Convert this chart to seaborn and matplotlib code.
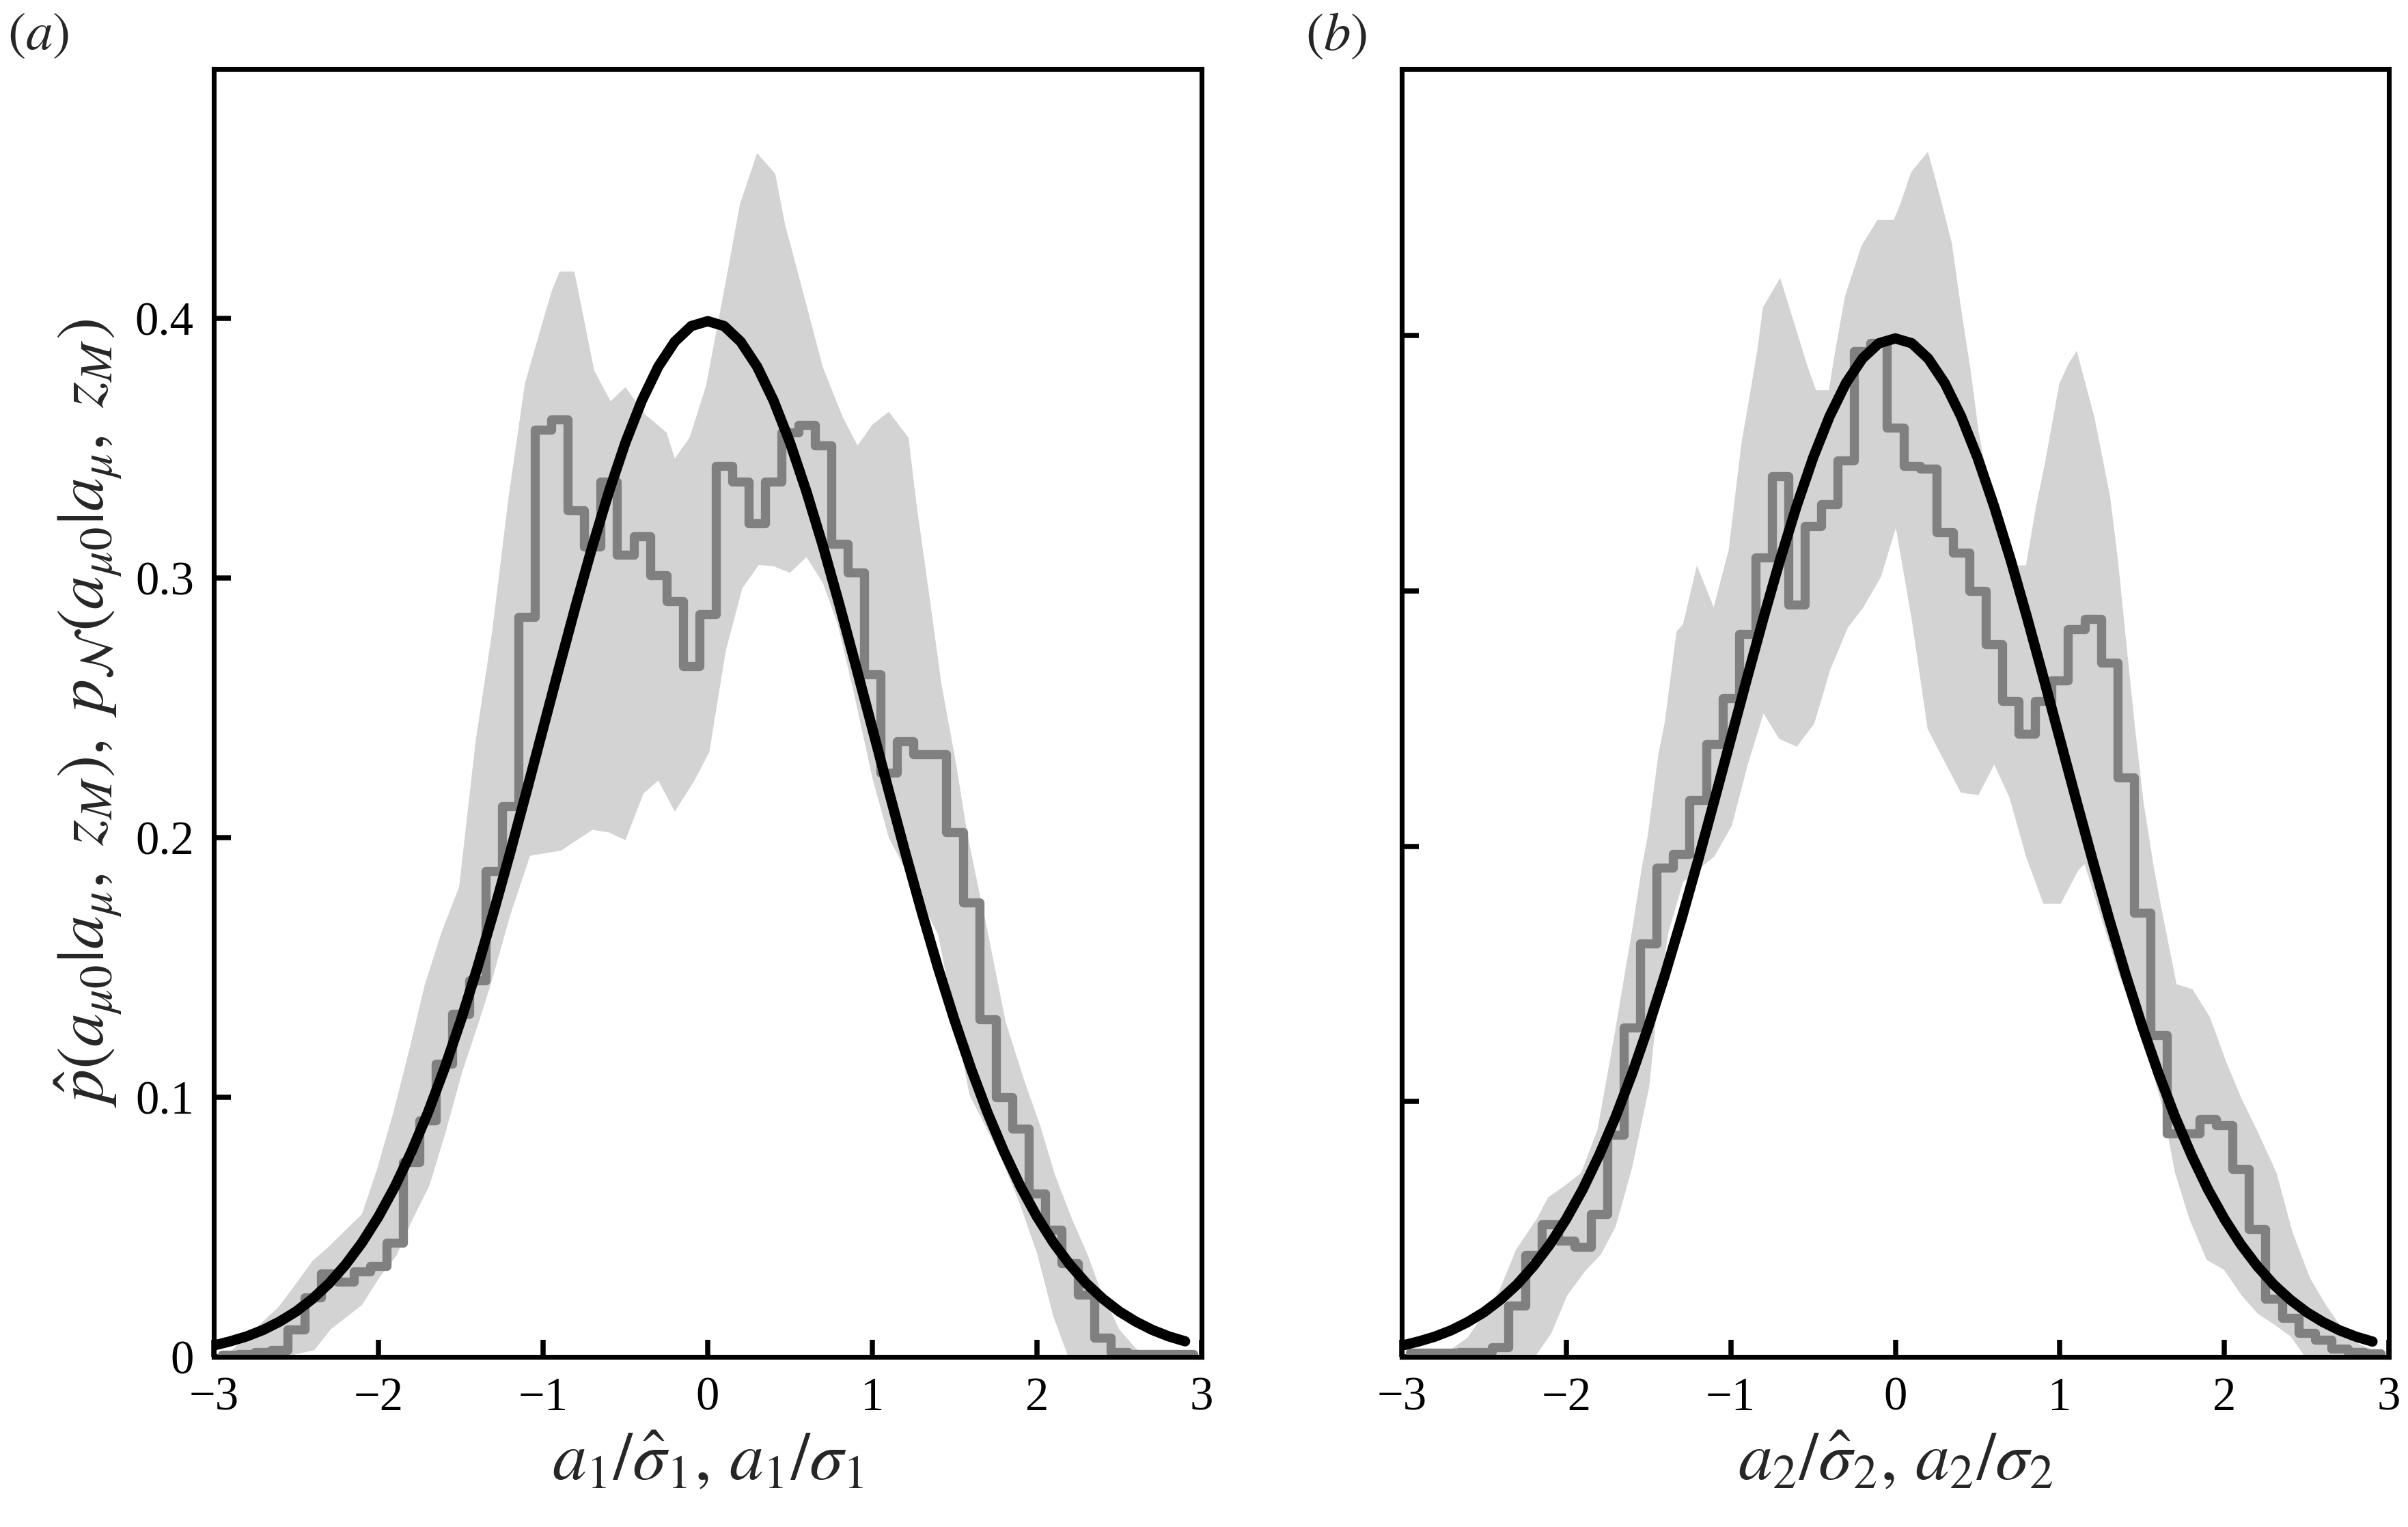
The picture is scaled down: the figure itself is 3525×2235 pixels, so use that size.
"""
Two-panel comparison: empirical step histogram with a light grey band,
against the standard normal density, for the two coefficients.
"""

import numpy as np
import pandas as pd
import matplotlib
matplotlib.use("Agg")
import matplotlib.pyplot as plt
import seaborn as sns

# ---------------------------------------------------------------------------
# Data
# ---------------------------------------------------------------------------

# histogram bins: width 0.1, centred on -2.9 ... 2.9
bin_edges = [round(v, 2) for v in np.arange(-2.95, 2.96, 0.1)]
bin_centres = [round(v, 1) for v in np.arange(-2.9, 2.91, 0.1)]

hist_a1 = [0.0007, 0.001, 0.0018, 0.0027, 0.0106, 0.023, 0.032, 0.029, 0.033, 0.035,
           0.044, 0.075, 0.091, 0.113, 0.132, 0.145, 0.187, 0.212, 0.285, 0.357,
           0.361, 0.326, 0.312, 0.337, 0.309, 0.316, 0.301, 0.291, 0.266,
           0.286,
           0.343, 0.337, 0.321, 0.337, 0.356, 0.359, 0.351, 0.313, 0.302, 0.263,
           0.225, 0.237, 0.232, 0.232, 0.202, 0.175, 0.130, 0.100, 0.088, 0.063,
           0.049, 0.036, 0.024, 0.0075, 0.0018, 0.001, 0.001, 0.001, 0.001]

hist_a2 = [0.0016, 0.0016, 0.0016, 0.0018, 0.002, 0.0037, 0.020, 0.040, 0.052, 0.0455,
           0.043, 0.056, 0.087, 0.129, 0.162, 0.1915, 0.197, 0.218, 0.240, 0.258,
           0.283, 0.313, 0.345, 0.2945, 0.3255, 0.334, 0.351, 0.394, 0.397,
           0.364,
           0.349, 0.348, 0.323, 0.315, 0.300, 0.279, 0.257, 0.244, 0.257, 0.265,
           0.285, 0.289, 0.272, 0.227, 0.174, 0.126, 0.0876, 0.0876, 0.093, 0.0906,
           0.0737, 0.050, 0.0227, 0.0152, 0.0093, 0.0068, 0.0031, 0.0018, 0.0014]

# grey band, panel (a): upper and lower envelopes
band_a1_up_x = [-2.95, -2.90, -2.61, -2.52, -2.40, -2.31, -2.10, -2.01, -1.91, -1.81,
                -1.72, -1.62, -1.51, -1.41, -1.31, -1.21, -1.11, -1.01, -0.95, -0.90,
                -0.81, -0.69, -0.59, -0.50, -0.38, -0.25, -0.20, -0.11, -0.01, 0.115,
                0.196, 0.30, 0.41, 0.47, 0.50, 0.70, 0.82, 0.91, 1.00, 1.10,
                1.22, 1.27, 1.34, 1.42, 1.51, 1.57, 1.62, 1.69, 1.81, 1.92,
                2.02, 2.11, 2.21, 2.31, 2.39, 2.50, 2.60, 2.65, 2.95]
band_a1_up_y = [0.0, 0.002, 0.019, 0.0265, 0.037, 0.042, 0.055, 0.072, 0.094, 0.119,
                0.143, 0.163, 0.181, 0.237, 0.279, 0.331, 0.375, 0.397, 0.410, 0.418,
                0.418, 0.380, 0.368, 0.3735, 0.363, 0.356, 0.346, 0.354, 0.374, 0.416,
                0.444, 0.4636, 0.4557, 0.436, 0.429, 0.381, 0.362, 0.351, 0.359, 0.364,
                0.354, 0.3275, 0.296, 0.259, 0.228, 0.204, 0.188, 0.167, 0.129, 0.107,
                0.089, 0.070, 0.0535, 0.039, 0.025, 0.0106, 0.0033, 0.0015, 0.0005]
band_a1_lo_x = [-2.95, -2.57, -2.39, -2.29, -2.10, -1.99, -1.89, -1.80, -1.69, -1.59,
                -1.49, -1.39, -1.32, -1.20, -1.10, -1.08, -0.89, -0.70, -0.60, -0.50,
                -0.39, -0.30, -0.20, -0.08, 0.01, 0.11, 0.21, 0.31, 0.40, 0.50,
                0.60, 0.70, 0.79, 0.88, 1.00, 1.10, 1.19, 1.40, 1.59, 1.78,
                1.89, 2.00, 2.10, 2.19, 2.95]
band_a1_lo_y = [0.0, 0.0, 0.0026, 0.0106, 0.020, 0.031, 0.039, 0.052, 0.066, 0.087,
                0.110, 0.129, 0.143, 0.170, 0.189, 0.193, 0.195, 0.203, 0.202, 0.199,
                0.217, 0.222, 0.210, 0.222, 0.233, 0.272, 0.296, 0.305, 0.3045, 0.302,
                0.308, 0.298, 0.282, 0.258, 0.223, 0.200, 0.189, 0.1625, 0.101, 0.077,
                0.060, 0.040, 0.0155, 0.0, 0.0]

# grey band, panel (b)
band_a2_up_x = [-2.95, -2.71, -2.60, -2.41, -2.305, -2.18, -2.11, -2.01, -1.91, -1.81,
                -1.71, -1.60, -1.54, -1.505, -1.44, -1.40, -1.33, -1.29, -1.206, -1.104,
                -1.013, -0.935, -0.897, -0.837, -0.805, -0.70, -0.62, -0.534, -0.482, -0.404,
                -0.372, -0.306, -0.207, -0.109, -0.01, 0.029, 0.096, 0.198, 0.253, 0.305,
                0.344, 0.403, 0.456, 0.505, 0.533, 0.62, 0.745, 0.794, 0.852, 0.909,
                0.996, 1.052, 1.103, 1.131, 1.21, 1.305, 1.353, 1.411, 1.459, 1.507,
                1.57, 1.613, 1.709, 1.806, 1.912, 2.008, 2.105, 2.211, 2.317, 2.413,
                2.519, 2.615, 2.721, 2.818, 2.943]
band_a2_up_y = [0.0, 0.0025, 0.0075, 0.0255, 0.042, 0.054, 0.0625, 0.067, 0.072, 0.089,
                0.125, 0.167, 0.192, 0.204, 0.236, 0.249, 0.284, 0.287, 0.310, 0.2936,
                0.316, 0.358, 0.372, 0.395, 0.411, 0.4226, 0.406, 0.388, 0.3786, 0.3786,
                0.3915, 0.4154, 0.435, 0.4453, 0.4453, 0.4513, 0.464, 0.472, 0.459, 0.446,
                0.436, 0.409, 0.387, 0.363, 0.353, 0.333, 0.310, 0.310, 0.332, 0.350,
                0.381, 0.389, 0.394, 0.387, 0.368, 0.337, 0.312, 0.275, 0.245, 0.218,
                0.192, 0.177, 0.146, 0.144, 0.133, 0.116, 0.101, 0.087, 0.072, 0.049,
                0.031, 0.0205, 0.0106, 0.005, 0.0017]
band_a2_lo_x = [-2.95, -2.19, -2.09, -1.995, -1.88, -1.79, -1.70, -1.60, -1.495, -1.447,
                -1.38, -1.29, -1.10, -0.994, -0.897, -0.801, -0.705, -0.599, -0.493, -0.396,
                -0.29, -0.194, -0.088, 0.003, 0.10, 0.196, 0.292, 0.398, 0.505, 0.601,
                0.694, 0.794, 0.90, 1.006, 1.112, 1.15, 1.353, 1.545, 1.623, 1.70,
                1.787, 1.892, 1.999, 2.105, 2.201, 2.307, 2.403, 2.49, 2.943]
band_a2_lo_y = [0.0, 0.0, 0.0093, 0.024, 0.034, 0.040, 0.051, 0.074, 0.106, 0.137,
                0.166, 0.186, 0.196, 0.208, 0.232, 0.252, 0.242, 0.239, 0.248, 0.269,
                0.2855, 0.2936, 0.3054, 0.3247, 0.2886, 0.246, 0.234, 0.221, 0.220, 0.232,
                0.219, 0.196, 0.1775, 0.1775, 0.1906, 0.193, 0.151, 0.116, 0.098, 0.072,
                0.054, 0.038, 0.034, 0.024, 0.017, 0.0125, 0.008, 0.0, 0.0]

# normal density, sampled every 0.1 from -3.0 to 2.9
gauss_x = [round(v, 1) for v in np.arange(-3.0, 2.95, 0.1)]
gauss_y = [0.0044, 0.0060, 0.0079, 0.0104, 0.0136, 0.0175, 0.0224, 0.0283, 0.0355, 0.0440,
           0.0540, 0.0656, 0.0790, 0.0940, 0.1109, 0.1295, 0.1497, 0.1714, 0.1942, 0.2179,
           0.2420, 0.2661, 0.2897, 0.3123, 0.3332, 0.3521, 0.3683, 0.3814, 0.3910, 0.3970,
           0.3989,
           0.3970, 0.3910, 0.3814, 0.3683, 0.3521, 0.3332, 0.3123, 0.2897, 0.2661, 0.2420,
           0.2179, 0.1942, 0.1714, 0.1497, 0.1295, 0.1109, 0.0940, 0.0790, 0.0656, 0.0540,
           0.0440, 0.0355, 0.0283, 0.0224, 0.0175, 0.0136, 0.0104, 0.0079, 0.0060]

x_ticks = [-3, -2, -1, 0, 1, 2, 3]
y_ticks = [0, 0.1, 0.2, 0.3, 0.4]
y_tick_labels = ["0", "0.1", "0.2", "0.3", "0.4"]

# ---------------------------------------------------------------------------
# Style
# ---------------------------------------------------------------------------

sns.set_style("ticks")
plt.rcParams["font.family"] = ["Liberation Serif", "DejaVu Serif"]
plt.rcParams["mathtext.fontset"] = "stix"

BAND_GREY = "#d3d3d3"
HIST_GREY = "#808080"
SPINE_W = 1.7

fig = plt.figure(figsize=(11.75, 7.45), dpi=300)
ax_a = fig.add_axes([0.0888, 0.1114, 0.4102, 0.8434])
ax_b = fig.add_axes([0.5821, 0.1114, 0.4100, 0.8434])

panels = [
    (ax_a, hist_a1, band_a1_up_x, band_a1_up_y, band_a1_lo_x, band_a1_lo_y,
     r"$a_1/\hat{\sigma}_1,\, a_1/\sigma_1$", 0.496),
    (ax_b, hist_a2, band_a2_up_x, band_a2_up_y, band_a2_lo_x, band_a2_lo_y,
     r"$a_2/\hat{\sigma}_2,\, a_2/\sigma_2$", 0.5044),
]

for ax, hist, ux, uy, lx, ly, xlabel, ytop in panels:
    # --- grey band ---
    ax.fill(ux + lx[::-1], uy + ly[::-1], color=BAND_GREY, lw=0, zorder=1)
    # --- step histogram ---
    df = pd.DataFrame({"centre": bin_centres, "density": hist})
    sns.histplot(data=df, x="centre", weights="density", bins=bin_edges,
                 element="step", fill=False, color=HIST_GREY, linewidth=3.2,
                 ax=ax, zorder=2)
    # --- normal density ---
    sns.lineplot(x=gauss_x, y=gauss_y, color="black", linewidth=3.6, ax=ax, zorder=3)

    ax.set_xlim(-3, 3)
    ax.set_ylim(0, ytop)
    ax.set_xticks(x_ticks)
    ax.set_yticks(y_ticks)
    ax.set_xlabel(xlabel, fontsize=24, labelpad=4)
    ax.set_ylabel("")
    for sp in ax.spines.values():
        sp.set_visible(True)
        sp.set_linewidth(SPINE_W)
        sp.set_color("black")
    ax.tick_params(direction="in", length=6, width=1.8, labelsize=16.5,
                   top=False, right=False, pad=7, colors="black")

ax_a.set_yticklabels(y_tick_labels)
ax_b.set_yticklabels([])
ax_a.set_ylabel(r"$\hat{p}(a_{\mu 0}|a_\mu,\ z_M),\ p_\mathcal{N}(a_{\mu 0}|a_\mu,\ z_M)$",
                fontsize=23.5, labelpad=4)

fig.text(0.003, 0.992, r"$(a)$", fontsize=19, ha="left", va="top")
fig.text(0.542, 0.992, r"$(b)$", fontsize=19, ha="left", va="top")

fig.savefig("out.png", dpi=300)
plt.close(fig)
